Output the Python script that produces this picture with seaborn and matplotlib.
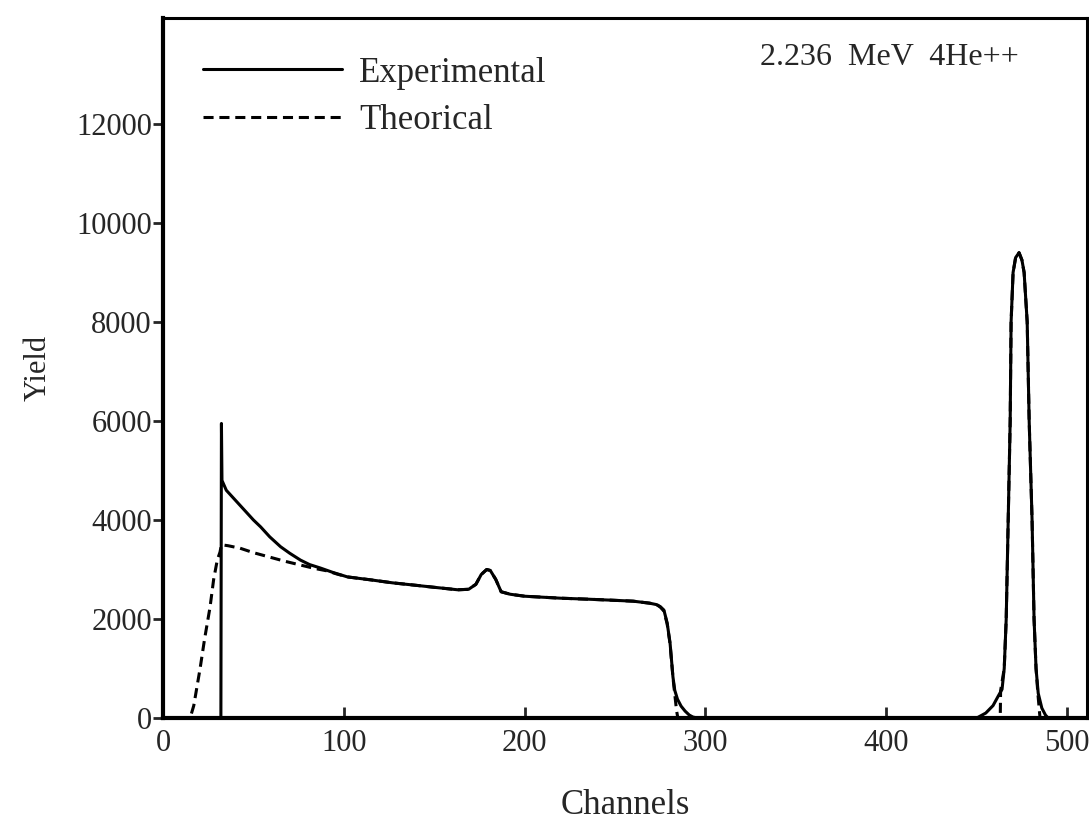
# RBS spectrum: experimental vs theoretical yield
import pandas as pd
import matplotlib.pyplot as plt
import seaborn as sns

# ----------- Data -----------------------------------

exp_channels = [0, 32.0, 32.3, 32.6, 35, 40, 45, 50, 54, 59, 65, 70, 76, 81, 87, 94, 102,
                115, 127, 140, 150, 163, 169, 173, 176, 179, 181, 184, 187, 192, 200, 210,
                220, 235, 248, 260, 269, 273, 275, 277, 278.8, 280.4, 282, 283, 284.5,
                286.5, 288.7, 291, 293, 295.4, 450, 455, 459, 462, 464, 465.2, 466.3, 467.4,
                468.5, 469, 470.1, 471.5, 473.4, 475, 476.2, 477.9, 479, 480.6, 481.7,
                482.8, 484, 486, 488, 489.5, 511]
exp_yield = [0, 0, 5950, 4800, 4600, 4400, 4200, 4000, 3860, 3660, 3460, 3330, 3190, 3100,
             3030, 2940, 2850, 2790, 2730, 2680, 2640, 2590, 2600, 2700, 2900, 3000, 2980,
             2800, 2550, 2500, 2460, 2440, 2420, 2400, 2380, 2360, 2320, 2290, 2250, 2180,
             1920, 1515, 830, 560, 380, 240, 140, 60, 20, 0, 0, 100, 250, 450, 580, 1000,
             2000, 4000, 6000, 8000, 9000, 9300, 9400, 9250, 9000, 8000, 6000, 4000, 2000,
             1000, 500, 200, 60, 0, 0]

theo_channels = [0, 15, 17, 20.5, 23, 26, 28, 30, 31.5, 32.3, 36, 42.6, 50, 59, 67, 76, 84,
                 91, 96, 102, 115, 127, 140, 150, 163, 169, 173, 176, 179, 181, 184, 187,
                 192, 200, 210, 220, 235, 248, 260, 269, 273, 275, 277, 278.8, 280.4, 282,
                 283, 284, 284.7, 463, 463.2, 465.2, 466.3, 467.4, 468.5, 469, 470.1, 471.5,
                 473.4, 475, 476.2, 477.9, 479, 480.6, 481.7, 482.8, 483.8, 485, 511]
theo_yield = [0, 0, 250, 1000, 1600, 2240, 2800, 3190, 3350, 3500, 3480, 3430, 3340, 3250,
              3170, 3090, 3020, 2970, 2910, 2850, 2790, 2730, 2680, 2640, 2590, 2600, 2700,
              2900, 3000, 2980, 2800, 2550, 2500, 2460, 2440, 2420, 2400, 2380, 2360, 2320,
              2290, 2240, 2160, 1900, 1500, 820, 480, 150, 0, 0, 550, 1000, 2000, 4000, 6000,
              8000, 9000, 9300, 9400, 9250, 9000, 8000, 6000, 4000, 2000, 1000, 500, 0, 0]

x_ticks = [0, 100, 200, 300, 400, 500]
y_ticks = [0, 2000, 4000, 6000, 8000, 10000, 12000]

exp_df = pd.DataFrame({"Channels": exp_channels, "Yield": exp_yield})
theo_df = pd.DataFrame({"Channels": theo_channels, "Yield": theo_yield})

# ----------- Style ---------------

sns.set_style("white")
plt.rcParams["font.family"] = ["Liberation Serif", "DejaVu Serif"]

fig = plt.figure(figsize=(10.89, 8.27), dpi=100)
ax = fig.add_axes([0.1497, 0.1318, 0.8485, 0.8464])

sns.lineplot(data=exp_df, x="Channels", y="Yield", ax=ax, color="black",
             linewidth=2.2, sort=False, estimator=None, label="Experimental")
sns.lineplot(data=theo_df, x="Channels", y="Yield", ax=ax, color="black",
             linewidth=2.2, sort=False, estimator=None,
             linestyle=(0, (3.3, 1.9)), label="Theorical")

ax.set_xlim(0, 511)
ax.set_ylim(0, 14140)
ax.set_xticks(x_ticks)
ax.set_yticks(y_ticks)

ax.tick_params(axis="x", direction="in", length=8, width=2, pad=8, labelsize=22,
               bottom=True)
ax.tick_params(axis="y", direction="out", length=7, width=2, pad=1, labelsize=22,
               left=True)

for side in ["left", "bottom"]:
    ax.spines[side].set_linewidth(3.0)
for side in ["top", "right"]:
    ax.spines[side].set_linewidth(2.2)
for sp in ax.spines.values():
    sp.set_color("black")

ax.set_xlabel("Channels", fontsize=25, labelpad=22)
ax.set_ylabel("Yield", fontsize=22)
ax.yaxis.set_label_coords(-0.12, 0.5)

ax.legend(loc="upper left", bbox_to_anchor=(0.043, 0.945), frameon=False,
          fontsize=25, handlelength=4.0, handletextpad=0.5, labelspacing=0.41,
          borderpad=0, borderaxespad=0)

ax.text(0.646, 0.944, "2.236  MeV  4He++", transform=ax.transAxes,
        fontsize=23, va="center", ha="left")

fig.savefig("out.png", dpi=100)
